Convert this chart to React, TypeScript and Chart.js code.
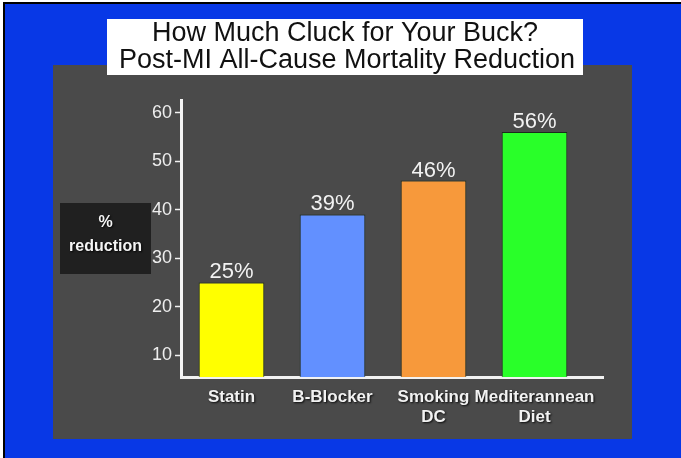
import React, { useEffect, useRef } from "react";
import { Chart, registerables } from "chart.js";

Chart.register(...registerables);

// Chart data
const categories: (string | string[])[] = ["Statin", "B-Blocker", ["Smoking", "DC"], ["Mediterannean", "Diet"]];
const reductionValues: number[] = [25, 39, 46, 56];
const barColors: string[] = ["#FFFF00", "#6290FF", "#F7993B", "#29FF29"];
const yTickValues: number[] = [10, 20, 30, 40, 50, 60];
const titleLines: string[] = ["How Much Cluck for Your Buck?", "Post-MI All-Cause Mortality Reduction"];
const axisCaption: string[] = ["%", "reduction"];

const FONT = "'Liberation Sans', Arial, sans-serif";

// Slide frame: border, blue page, grey panel, white title box, caption box
const slideBackground = {
  id: "slideBackground",
  beforeDraw(chart: any) {
    const { ctx, width, height } = chart;
    ctx.save();
    ctx.fillStyle = "#ffffff";
    ctx.fillRect(0, 0, width, height);
    ctx.fillStyle = "#000000";
    ctx.fillRect(3, 2, width - 3, height - 2);
    ctx.fillStyle = "#0838E6";
    ctx.fillRect(5, 4, width - 5, height - 4);
    ctx.fillStyle = "#4A4A4A";
    ctx.fillRect(53, 65, 579, 374);
    ctx.fillStyle = "#ffffff";
    ctx.fillRect(107, 19, 476, 56);

    ctx.fillStyle = "#111111";
    ctx.font = `27px ${FONT}`;
    ctx.textAlign = "center";
    ctx.textBaseline = "alphabetic";
    ctx.fillText(titleLines[0], 345, 41);
    ctx.fillText(titleLines[1], 347, 68);

    ctx.fillStyle = "#202020";
    ctx.fillRect(60, 203, 91, 71);
    ctx.font = `bold 16px ${FONT}`;
    ctx.textBaseline = "middle";
    ctx.shadowColor = "rgba(0,0,0,0.9)";
    ctx.shadowOffsetX = 1;
    ctx.shadowOffsetY = 1;
    ctx.shadowBlur = 2;
    ctx.fillStyle = "#f4f4f4";
    ctx.fillText(axisCaption[0], 105.5, 223);
    ctx.fillText(axisCaption[1], 105.5, 247);
    ctx.restore();
  },
  afterLayout(chart: any) {
    // soft drop shadow behind the category labels
    const xs = chart.scales.x;
    if (xs && !xs.__shadowed) {
      const orig = xs.drawLabels.bind(xs);
      xs.drawLabels = (area: any) => {
        const c = chart.ctx;
        c.save();
        c.shadowColor = "rgba(0,0,0,0.85)";
        c.shadowOffsetX = 1;
        c.shadowOffsetY = 1;
        c.shadowBlur = 2;
        orig(area);
        c.restore();
      };
      xs.__shadowed = true;
    }
  },
};

// Horizontal baseline running past the last bar
const baseLine = {
  id: "baseLine",
  beforeDatasetsDraw(chart: any) {
    const { ctx, chartArea } = chart;
    ctx.save();
    ctx.strokeStyle = "#f2f2f2";
    ctx.lineWidth = 3;
    ctx.beginPath();
    ctx.moveTo(chartArea.left - 1, chartArea.bottom + 0.5);
    ctx.lineTo(604, chartArea.bottom + 0.5);
    ctx.stroke();
    ctx.restore();
  },
};

// Percentage labels above each bar
const valueLabels = {
  id: "valueLabels",
  afterDatasetsDraw(chart: any) {
    const { ctx } = chart;
    const meta = chart.getDatasetMeta(0);
    ctx.save();
    ctx.fillStyle = "#f2f2f2";
    ctx.font = `22px ${FONT}`;
    ctx.textAlign = "center";
    ctx.textBaseline = "alphabetic";
    meta.data.forEach((bar: any, i: number) => {
      ctx.fillText(`${reductionValues[i]}%`, bar.x, bar.y - 4);
    });
    ctx.restore();
  },
};

export default function App() {
  const canvasRef = useRef<HTMLCanvasElement | null>(null);

  useEffect(() => {
    if (!canvasRef.current) return;
    const chart = new Chart(canvasRef.current, {
      type: "bar",
      data: {
        labels: categories as any,
        datasets: [
          {
            data: reductionValues,
            backgroundColor: barColors,
            borderColor: "#1b2a1b",
            borderWidth: 1,
            categoryPercentage: 1,
            barPercentage: 0.65,
          },
        ],
      },
      options: {
        animation: false,
        responsive: false,
        devicePixelRatio: 1,
        layout: { padding: { left: 100, right: 96, top: 100, bottom: 21 } },
        plugins: {
          legend: { display: false },
          title: { display: false },
          tooltip: { enabled: false },
        },
        scales: {
          x: {
            grid: { display: false, drawTicks: false },
            border: { display: false },
            ticks: {
              color: "#f2f2f2",
              font: { family: FONT, size: 17, weight: "bold", lineHeight: 1.15 },
              padding: 11,
              maxRotation: 0,
              autoSkip: false,
            },
            afterFit(scale: any) {
              scale.height = 60;
            },
          },
          y: {
            min: 5.5,
            max: 62.6,
            grid: {
              display: true,
              drawOnChartArea: false,
              drawTicks: true,
              tickLength: 6,
              tickColor: "#f2f2f2",
              tickWidth: 1.5,
            },
            border: { display: true, color: "#f4f4f4", width: 3 },
            ticks: {
              color: "#eeeeee",
              font: { family: FONT, size: 18 },
              padding: 3,
            },
            afterBuildTicks(scale: any) {
              scale.ticks = yTickValues.map((value) => ({ value }));
            },
            afterFit(scale: any) {
              scale.width = 81;
            },
          },
        },
      },
      plugins: [slideBackground, baseLine, valueLabels],
    });
    return () => chart.destroy();
  }, []);

  return (
    <div style={{ position: "absolute", left: 0, top: 0, width: 681, height: 458 }}>
      <canvas ref={canvasRef} width={681} height={458} style={{ display: "block" }} />
    </div>
  );
}
